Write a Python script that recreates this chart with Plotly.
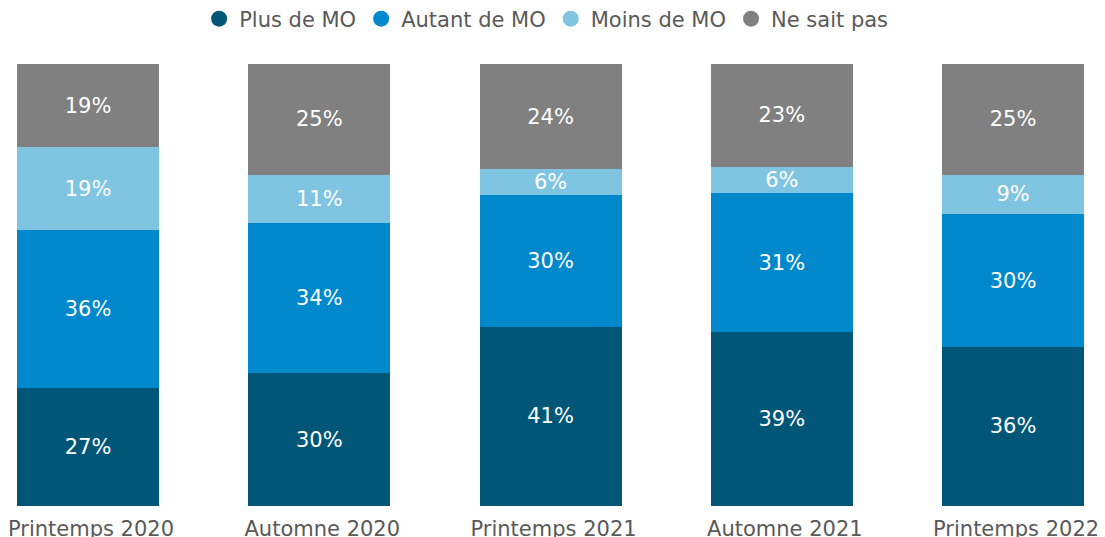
import plotly.graph_objects as go

categories = ["Printemps 2020", "Automne 2020", "Printemps 2021", "Automne 2021", "Printemps 2022"]
plus_mo = [27, 30, 41, 39, 36]
autant_mo = [36, 34, 30, 31, 30]
moins_mo = [19, 11, 6, 6, 9]
ne_sait_pas = [19, 25, 24, 23, 25]

series = [
    ("Plus de MO", plus_mo, "#005677"),
    ("Autant de MO", autant_mo, "#0088cc"),
    ("Moins de MO", moins_mo, "#7fc4e0"),
    ("Ne sait pas", ne_sait_pas, "#808080"),
]

FONT = "DejaVu Sans"
fig = go.Figure()
for name, vals, col in series:
    fig.add_trace(go.Bar(
        x=categories, y=vals, name=name, marker=dict(color=col, line=dict(width=0)),
        text=[f"{v}%" for v in vals], textposition="inside", insidetextanchor="middle",
        textfont=dict(color="white", size=21, family=FONT), showlegend=False,
        hoverinfo="skip",
    ))
# legend entries with circle symbols
for name, vals, col in series:
    fig.add_trace(go.Scatter(
        x=[None], y=[None], mode="markers", name=name,
        marker=dict(symbol="circle", size=18, color=col), showlegend=True,
    ))

fig.update_layout(
    barmode="stack", barnorm="percent", bargap=0.386,
    width=1105, height=537,
    margin=dict(l=0, r=0, t=56, b=39, autoexpand=False),
    paper_bgcolor="white", plot_bgcolor="white",
    font=dict(family=FONT, size=21, color="#595959"),
    uniformtext=dict(minsize=21, mode="show"),
    legend=dict(orientation="h", x=0.487, xanchor="center",
                yref="container", y=1 - 11 / 537, yanchor="middle",
                traceorder="normal",
                font=dict(size=21, color="#595959", family=FONT), itemwidth=30,
                bgcolor="rgba(0,0,0,0)"),
    xaxis=dict(range=[-0.346, 4.432], showgrid=False, showline=False, ticks="",
               tickfont=dict(size=21, color="#595959", family=FONT),
               ticklabelstandoff=8, ticklabelshift=3),
    yaxis=dict(range=[0, 100], visible=False, showgrid=False),
)
fig.write_html("out.html")
